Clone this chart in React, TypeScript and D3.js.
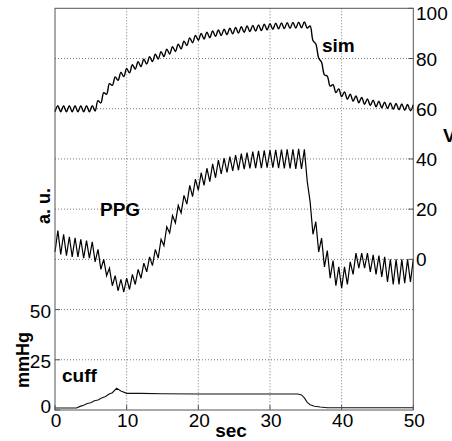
import React from "react";
import * as d3 from "d3";

// ---- data ----
// samples every 0.4 s, alternating trough / peak of each heart beat
const sampleStep = 0.4;

const simValues = [
  58.8, 61.2, 58.8, 61.2, 58.8, 61.2, 58.8, 61.2, 58.8, 61.2,
  58.8, 61.2, 58.8, 61.2, 59.1, 63.2, 62.3, 66.4, 65.8, 70,
  69.3, 72.7, 71.3, 74.5, 72.8, 76, 74.3, 77.5, 75.8, 78.7,
  76.8, 79.7, 77.8, 80.7, 78.8, 81.7, 79.8, 82.7, 80.8, 83.7,
  81.8, 84.7, 82.8, 85.7, 83.8, 86.9, 85.2, 88.2, 86.3, 89.2,
  87.3, 90, 87.8, 90.5, 88.3, 91, 88.8, 91.4, 89.1, 91.7,
  89.5, 92.1, 89.8, 92.4, 90.1, 92.7, 90.4, 93, 90.7, 93.2,
  90.9, 93.4, 91.1, 93.7, 91.4, 93.9, 91.6, 94.1, 91.8, 94.2,
  91.9, 94.3, 92, 94.4, 92.1, 94.5, 92.2, 94.6, 92.1, 93,
  87.2, 85.8, 80.2, 78.5, 73.5, 73, 69, 69.6, 66.4, 67.9,
  64.8, 66.7, 63.8, 65.8, 63, 65.1, 62.4, 64.5, 61.8, 63.9,
  61.3, 63.4, 60.8, 63, 60.4, 62.6, 60.1, 62.3, 59.8, 62.1,
  59.6, 61.9, 59.4, 61.7, 59.2, 61.6,
];

const ppgValues = [
  3, 11.5, 2, 10, 1.5, 9, 1, 8.6, 1, 8,
  0.5, 7.5, 0.5, 7, -1, 4, -4, 0, -6.5, -3.5,
  -10.5, -6.5, -12.5, -8, -13, -7.5, -12, -6, -10, -4,
  -7.5, -1.5, -5, 1, -2.5, 4, 0.5, 8, 5.5, 13,
  10.5, 17.5, 14.5, 21.5, 18.5, 25.5, 22, 29.5, 25, 32,
  27.5, 34.5, 29.5, 36.3, 31, 38, 32.5, 39.5, 34, 40.3,
  34.6, 40.9, 35.2, 41.5, 35.5, 42.1, 35.9, 42.5, 36.2, 42.9,
  36.3, 43.2, 36.3, 43.4, 36.5, 43.5, 36.5, 43.6, 36.3, 43.7,
  36.2, 43.8, 36.2, 43.8, 36, 44, 36, 43.8, 31, 23,
  10, 15, 3, 8.5, -3, 3.5, -7.5, -0.5, -10.5, -3,
  -11.5, -3, -10, -1, -6, 2.5, -3.5, 2.5, -3.5, 2.5,
  -5, 1.8, -6, 1.5, -7, 1, -9, 0, -10, 0,
  -10, 0, -9.5, 0, -9, 0,
];

// cuff pressure, mmHg
const cuffTimes = [0, 3, 3.5, 4, 4.5, 5, 5.5, 6, 6.5, 7, 7.5, 8, 8.6, 9.2, 10, 12, 15, 20, 33.9, 34.4, 34.8, 35.2, 35.6, 36.2, 37, 38, 50];
const cuffValues = [1, 1, 1.8, 2.4, 3.2, 3.6, 4.6, 5, 6, 6.6, 7.8, 8.6, 10.8, 9.5, 8.3, 8.3, 8.1, 8, 8, 7.5, 6, 3.8, 2.6, 1.9, 1.5, 1.1, 1.1];

const xTicks = [0, 10, 20, 30, 40, 50];
const rightTicks = [100, 80, 60, 40, 20, 0];
const leftTicks = [0, 25, 50];
const gridRight = [-40, -20, 0, 20, 40, 60, 80];

export default function App() {
  const width = 452;
  const height = 441;
  const left = 55, right = 413.3, top = 8.3, bottom = 410;

  const x = d3.scaleLinear().domain([0, 50]).range([left, right]);
  const yR = d3.scaleLinear().domain([-60, 100]).range([bottom, top]);
  const yL = d3.scaleLinear().domain([0, 200]).range([bottom, top]);

  // sim is a smooth wave, PPG a sawtooth
  const simLine = d3.line<number>()
    .x((_, i) => x(i * sampleStep))
    .y(d => yR(d))
    .curve(d3.curveCatmullRom);

  const ppgLine = d3.line<number>()
    .x((_, i) => x(i * sampleStep))
    .y(d => yR(d));

  const cuffLine = d3.line<number>()
    .x((_, i) => x(cuffTimes[i]))
    .y(d => yL(d));

  const font = "'Liberation Sans', Arial, sans-serif";
  const axisColor = "#555";

  return (
    <svg width={width} height={height}
      style={{ position: "absolute", left: 0, top: 0, background: "#fff" }}
      fontFamily={font}>
      <rect x={0} y={0} width={width} height={height} fill="#fff" />

      {/* grid */}
      {xTicks.slice(1, -1).map(t => (
        <line key={"gx" + t} x1={x(t)} x2={x(t)} y1={top} y2={bottom}
          stroke="#777" strokeDasharray="1 2" />
      ))}
      {gridRight.map(t => (
        <line key={"gy" + t} x1={left} x2={right} y1={yR(t)} y2={yR(t)}
          stroke="#777" strokeDasharray="1 2" />
      ))}

      {/* signals */}
      <path d={simLine(simValues) || ""} fill="none" stroke="#000" strokeWidth={1.4} />
      <path d={ppgLine(ppgValues) || ""} fill="none" stroke="#000" strokeWidth={1.2} />
      <path d={cuffLine(cuffValues) || ""} fill="none" stroke="#111" strokeWidth={1.1} />

      {/* box */}
      <rect x={left} y={top} width={right - left} height={bottom - top}
        fill="none" stroke={axisColor} strokeWidth={1} />

      {/* bottom axis */}
      {xTicks.map(t => (
        <g key={"xt" + t}>
          <line x1={x(t)} x2={x(t)} y1={bottom} y2={bottom - 5} stroke={axisColor} />
          <text x={x(t) + 1} y={427} textAnchor="middle" fontSize={19}>{t}</text>
        </g>
      ))}
      <text x={231} y={437} textAnchor="middle" fontSize={19} fontWeight="bold">sec</text>

      {/* right axis */}
      {rightTicks.map(t => (
        <g key={"rt" + t}>
          <line x1={right} x2={right - 5} y1={yR(t)} y2={yR(t)} stroke={axisColor} />
          <text x={416} y={t === 100 ? 20 : yR(t) + 7} fontSize={19}>{t}</text>
        </g>
      ))}
      <text x={443} y={142} fontSize={19} fontWeight="bold">V</text>

      {/* left axis */}
      {leftTicks.map(t => (
        <g key={"lt" + t}>
          <line x1={left} x2={left + 5} y1={yL(t)} y2={yL(t)} stroke={axisColor} />
          <text x={51} y={t === 0 ? 413 : yL(t) + 8} textAnchor="end" fontSize={19}>{t}</text>
        </g>
      ))}
      <text transform="translate(50,206) rotate(-90)" textAnchor="middle"
        fontSize={18} fontWeight="bold">a. u.</text>
      <text transform="translate(28.5,360) rotate(-90)" textAnchor="middle"
        fontSize={18} fontWeight="bold">mmHg</text>

      {/* series labels */}
      <text x={322} y={52} fontSize={19} fontWeight="bold">sim</text>
      <text x={100} y={216} fontSize={19} fontWeight="bold">PPG</text>
      <text x={62} y={382} fontSize={19} fontWeight="bold">cuff</text>
    </svg>
  );
}
